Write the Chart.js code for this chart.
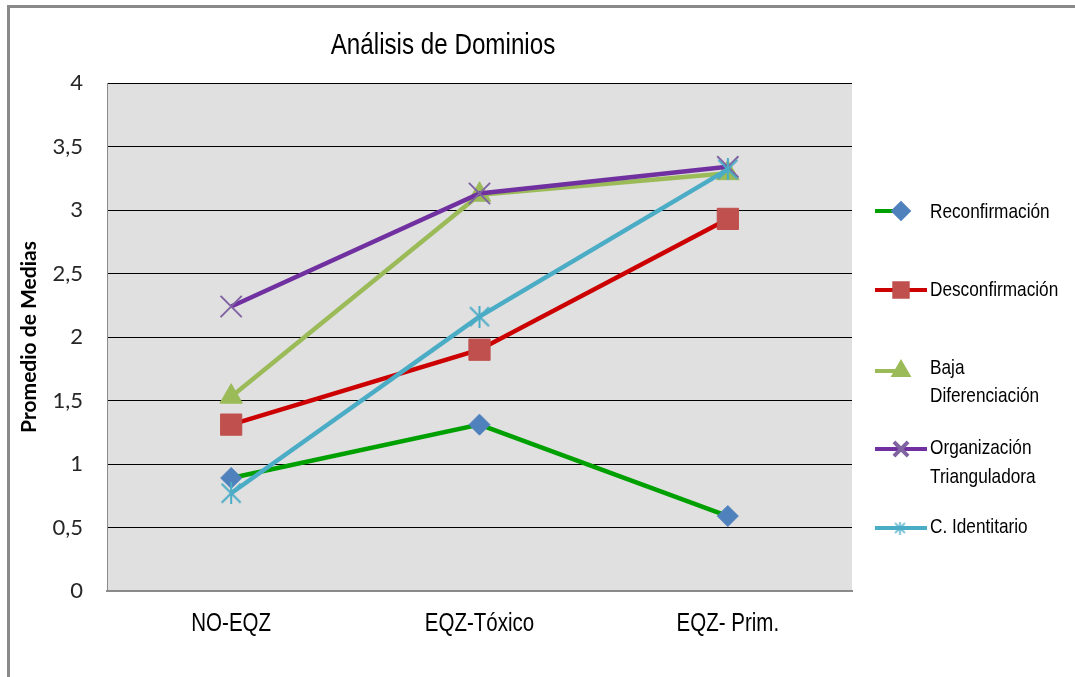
<!DOCTYPE html>
<html>
<head>
<meta charset="utf-8">
<script src="https://cdn.jsdelivr.net/npm/chart.js@4/dist/chart.umd.min.js"></script>
<style>
  html, body { margin: 0; padding: 0; background: #fff; }
  #wrap { width: 1075px; height: 677px; }
</style>
</head>
<body>
<div id="wrap"><canvas id="c" width="1075" height="677"></canvas></div>
<script>
// Categories and mean scores per domain
const categories = ['NO-EQZ', 'EQZ-Tóxico', 'EQZ- Prim.'];
const reconfirmacion     = [0.89, 1.31, 0.59];
const desconfirmacion    = [1.31, 1.90, 2.93];
const bajaDiferenciacion = [1.53, 3.12, 3.29];
const organizacionTriang = [2.24, 3.13, 3.34];
const cIdentitario       = [0.77, 2.16, 3.32];
const seriesNames = ['Reconfirmación', 'Desconfirmación', ['Baja', 'Diferenciación'], ['Organización', 'Trianguladora'], 'C. Identitario'];
const yTicks = [0, 0.5, 1, 1.5, 2, 2.5, 3, 3.5, 4];
const chartTitle = 'Análisis de Dominios';

const SANS = 'Lato, "Open Sans", sans-serif';

// Condensed text: Liberation Sans squeezed horizontally
function narrowText(ctx, text, x, y, size, align) {
  ctx.save();
  ctx.font = size + 'px "Liberation Sans", Arial, sans-serif';
  ctx.translate(x, y);
  ctx.scale(0.82, 1);
  ctx.textAlign = align;
  ctx.textBaseline = 'middle';
  ctx.fillStyle = '#000';
  ctx.fillText(text, 0, 0);
  ctx.restore();
}

// Asterisk marker (X with a vertical stroke)
function asterisk(color, size, lw) {
  const c = document.createElement('canvas');
  c.width = size; c.height = size;
  const g = c.getContext('2d');
  g.strokeStyle = color; g.lineWidth = lw; g.lineCap = 'butt';
  const m = 1.5, s = size;
  g.beginPath();
  g.moveTo(m, m); g.lineTo(s - m, s - m);
  g.moveTo(s - m, m); g.lineTo(m, s - m);
  g.moveTo(s / 2, 0); g.lineTo(s / 2, s);
  g.stroke();
  return c;
}

const styles = [
  { line: '#00A000', fill: '#4F81BD', point: 'rectRot', r: 10.5, lr: 7.5, bw: 1, legendEnd: 907 },
  { line: '#CC0000', fill: '#C0504D', point: 'rect', r: 15, lr: 9.5, bw: 1, legendEnd: 927 },
  { line: '#9BBB59', fill: '#9BBB59', point: 'triangle', r: 13, lr: 8, bw: 1, legendEnd: 907 },
  { line: '#7030A0', fill: '#8064A2', point: 'crossRot', r: 15, lr: 10, bw: 2, legendEnd: 927 },
  { line: '#4BACC6', fill: '#4BACC6', point: asterisk('#4BACC6', 22, 2), r: 11, lr: 0, bw: 2, legendEnd: 927,
    legendPoint: asterisk('#4BACC6', 13, 1.5) }
];
const seriesData = [reconfirmacion, desconfirmacion, bajaDiferenciacion, organizacionTriang, cIdentitario];

const datasets = seriesData.map((d, i) => ({
  label: Array.isArray(seriesNames[i]) ? seriesNames[i].join(' ') : seriesNames[i],
  data: d,
  borderColor: styles[i].line,
  borderWidth: 4.5,
  backgroundColor: styles[i].fill,
  pointStyle: styles[i].point,
  pointRadius: styles[i].r,
  pointHoverRadius: styles[i].r,
  pointBorderColor: styles[i].fill,
  pointBackgroundColor: styles[i].fill,
  pointBorderWidth: styles[i].bw,
  tension: 0,
  order: seriesData.length - i
}));

// Outer frame, plot background, title and category labels
const framePlugin = {
  id: 'frame',
  beforeDraw(chart) {
    const ctx = chart.ctx, a = chart.chartArea;
    ctx.save();
    ctx.fillStyle = '#fff';
    ctx.fillRect(0, 0, chart.width, chart.height);
    ctx.fillStyle = '#8A8A8A';
    ctx.fillRect(7, 5, chart.width - 7, 3);
    ctx.fillRect(7, 5, 3, chart.height - 5);
    ctx.fillStyle = '#E0E0E0';
    ctx.fillRect(a.left, a.top, a.right - a.left, a.bottom - a.top);
    ctx.restore();
  },
  afterDraw(chart) {
    const ctx = chart.ctx, xs = chart.scales.x;
    narrowText(ctx, chartTitle, 443, 46, 29.5, 'center');
    xs.ticks.forEach((t, i) => {
      narrowText(ctx, chart.data.labels[t.value], xs.getPixelForTick(i), chart.chartArea.bottom + 33, 25, 'center');
    });
  }
};

// Legend on the right
const legendPlugin = {
  id: 'sideLegend',
  afterDraw(chart) {
    const ctx = chart.ctx;
    const rows = [211, 290, 371, 449, 528];
    const textRows = [[212], [290], [368, 396], [448, 477], [527]];
    seriesNames.forEach((name, i) => {
      const st = styles[i], y = rows[i];
      ctx.save();
      ctx.strokeStyle = st.line;
      ctx.lineWidth = 4;
      ctx.beginPath();
      ctx.moveTo(875, y); ctx.lineTo(st.legendEnd, y);
      ctx.stroke();
      ctx.fillStyle = st.fill; ctx.strokeStyle = st.fill;
      if (st.legendPoint) {
        ctx.drawImage(st.legendPoint, 900 - 6.5, y - 6.5);
      } else {
        Chart.helpers.drawPoint(ctx, { pointStyle: st.point, radius: st.lr, rotation: 0, borderWidth: st.bw > 1 ? 1.5 : 1 }, 901, y);
      }
      ctx.restore();
      const lines = Array.isArray(name) ? name : [name];
      lines.forEach((t, k) => narrowText(ctx, t, 930, textRows[i][k], 21, 'left'));
    });
  }
};

new Chart(document.getElementById('c'), {
  type: 'line',
  data: { labels: categories, datasets },
  options: {
    responsive: false,
    animation: false,
    devicePixelRatio: 1,
    layout: { padding: { top: 83, right: 223, left: 0, bottom: 0 } },
    plugins: { legend: { display: false }, tooltip: { enabled: false }, title: { display: false } },
    scales: {
      x: {
        offset: true,
        grid: { display: false, drawTicks: false },
        border: { display: true, color: '#8A8A8A', width: 2 },
        ticks: { color: 'rgba(0,0,0,0)', font: { size: 22 }, padding: 22, maxRotation: 0 },
        afterFit(s) { s.height = 86; }
      },
      y: {
        min: 0, max: 4,
        afterBuildTicks(s) { s.ticks = yTicks.map(v => ({ value: v })); },
        grid: {
          drawTicks: false,
          color: ctx => ctx.tick && ctx.tick.value === 0 ? 'rgba(0,0,0,0)' : '#000',
          lineWidth: 1
        },
        border: { display: true, color: '#8A8A8A', width: 1 },
        ticks: {
          color: '#262626',
          font: { family: SANS, size: 22 },
          padding: 24,
          callback: v => String(v).replace('.', ',')
        },
        title: {
          display: true, text: 'Promedio de Medias', color: '#000',
          font: { family: SANS, size: 21, weight: 'bold' }, padding: { top: 17, bottom: 0 }
        },
        afterFit(s) { s.width = 107; }
      }
    }
  },
  plugins: [framePlugin, legendPlugin]
});
</script>
</body>
</html>
